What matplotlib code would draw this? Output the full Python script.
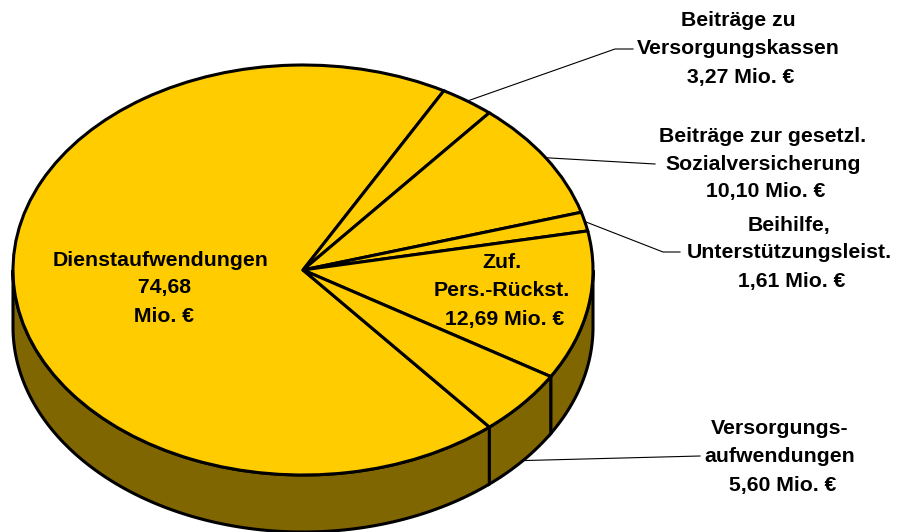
import numpy as np
import matplotlib
matplotlib.use("Agg")
import matplotlib.pyplot as plt
from matplotlib.patches import Polygon

# ---- data ----
names = ["Dienstaufwendungen", "Beiträge zu\nVersorgungskassen",
         "Beiträge zur gesetzl.\nSozialversicherung", "Beihilfe,\nUnterstützungsleist.",
         "Zuf.\nPers.-Rückst.", "Versorgungs-\naufwendungen"]
values = [74.68, 3.27, 10.10, 1.61, 12.69, 5.60]
unit = "Mio. €"

# ---- layout (pixel positions) ----
W, H = 901, 532
cx, cy, rx, ry, depth = 303, 270, 290, 205, 57
label_pos = [(161, 288), (738, 49), (763, 164), (789, 253), (502, 291), (780, 457)]
# leader elbows in pixels (None -> no leader)
leaders = [None, [(615, 49), (633, 49)], [(655, 164)], [(663, 252), (680, 252)], None, [(700, 456)]]

top_col = "#FFCC00"
side_col = "#806600"


def P(px, py):
    return ((px - cx) / rx, (cy - py) / ry)


fig = plt.figure(figsize=(W / 100, H / 100), dpi=100)
ax = fig.add_axes([0, 0, 1, 1])

wedges, _ = ax.pie(values, startangle=-50, counterclock=False, radius=1, center=(0, 0),
                   colors=[top_col] * len(values),
                   wedgeprops=dict(edgecolor="black", linewidth=2.2, zorder=3))
ax.set_aspect("auto")
ax.set_xlim(P(0, 0)[0], P(W, 0)[0])
ax.set_ylim(P(0, H)[1], P(0, 0)[1])
ax.axis("off")

d = depth / ry
for w in wedges:
    w.set_zorder(3)
    t1, t2 = w.theta1, w.theta2
    for k in range(-1440, 1441, 360):
        a, b = max(t1, 180 + k), min(t2, 360 + k)
        if b > a:
            th = np.radians(np.linspace(a, b, 200))
            xs, ys = np.cos(th), np.sin(th)
            poly = np.column_stack([np.r_[xs, xs[::-1]], np.r_[ys, ys[::-1] - d]])
            ax.add_patch(Polygon(poly, closed=True, fc=side_col, ec="black", lw=2.2, zorder=1))

# labels
for i, (nm, v) in enumerate(zip(names, values)):
    vs = f"{v:.2f}".replace(".", ",")
    if i == 0:
        txt = f"{nm}\n {vs}\n {unit}"
    else:
        txt = f"{nm}\n {vs} {unit}"
    x, y = P(*label_pos[i])
    ax.text(x, y, txt, ha="center", va="center", fontsize=15.3, fontweight="bold",
            family=["Liberation Sans", "DejaVu Sans"], linespacing=1.6, zorder=5)

# leader lines
for w, ld in zip(wedges, leaders):
    if ld is None:
        continue
    m = np.radians((w.theta1 + w.theta2) / 2)
    sx, sy = np.cos(m), np.sin(m)
    if sy < 0:
        sy -= d
    pts = [(sx, sy)] + [P(*p) for p in ld]
    xs, ys = zip(*pts)
    ax.plot(xs, ys, color="black", lw=0.8, zorder=4)

fig.savefig("out.png", dpi=100)
